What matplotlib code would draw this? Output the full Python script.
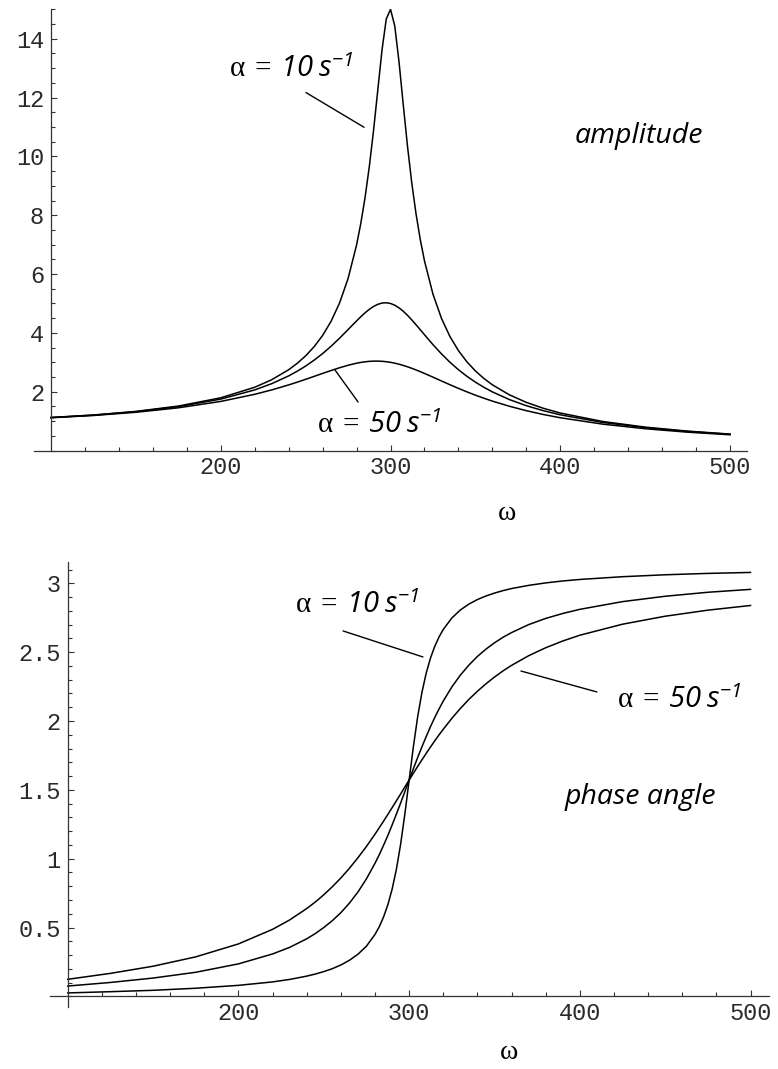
import matplotlib
matplotlib.use('Agg')
import matplotlib.pyplot as plt
from matplotlib.ticker import MultipleLocator, FixedLocator

# valores (omega em s^-1)
omega = [100, 125, 150, 175, 200, 220, 230, 240, 245, 250, 255, 260, 265, 270, 275,
         280, 282.5, 285, 287.5, 290, 292.5, 295, 297.5, 300, 302.5, 305, 307.5, 310,
         312.5, 315, 317.5, 320, 325, 330, 335, 340, 345, 350, 355, 360, 370, 380,
         390, 400, 425, 450, 475, 500]

# amplitude para alpha = 10, 30, 50 s^-1
amp10 = [1.125, 1.209, 1.332, 1.513, 1.794, 2.152, 2.408, 2.748, 2.963, 3.220, 3.531,
         3.914, 4.396, 5.019, 5.848, 6.987, 7.722, 8.601, 9.649, 10.878, 12.251,
         13.621, 14.671, 15.0, 14.435, 13.218, 11.759, 10.348, 9.106, 8.057, 7.181,
         6.450, 5.318, 4.496, 3.877, 3.398, 3.017, 2.707, 2.451, 2.236, 1.896, 1.639,
         1.438, 1.277, 0.989, 0.798, 0.662, 0.561]
amp30 = [1.122, 1.204, 1.322, 1.493, 1.750, 2.062, 2.274, 2.538, 2.696, 2.873, 3.073,
         3.297, 3.547, 3.821, 4.113, 4.408, 4.550, 4.683, 4.801, 4.899, 4.971, 5.015,
         5.025, 5.0, 4.942, 4.852, 4.736, 4.598, 4.444, 4.279, 4.109, 3.938, 3.602,
         3.288, 3.003, 2.749, 2.525, 2.326, 2.151, 1.995, 1.735, 1.526, 1.356, 1.216,
         0.956, 0.778, 0.649, 0.553]
amp50 = [1.116, 1.193, 1.302, 1.454, 1.671, 1.913, 2.062, 2.232, 2.325, 2.422, 2.522,
         2.623, 2.722, 2.816, 2.900, 2.970, 2.997, 3.018, 3.033, 3.041, 3.042, 3.035,
         3.021, 3.0, 2.972, 2.936, 2.895, 2.849, 2.797, 2.742, 2.683, 2.623, 2.496,
         2.367, 2.239, 2.115, 1.996, 1.884, 1.780, 1.682, 1.507, 1.356, 1.227, 1.116,
         0.899, 0.743, 0.626, 0.537]

# ângulo de fase para alpha = 10, 30, 50 s^-1
phase10 = [0.025, 0.034, 0.044, 0.059, 0.080, 0.105, 0.123, 0.147, 0.162, 0.180, 0.201,
           0.228, 0.262, 0.306, 0.365, 0.450, 0.506, 0.576, 0.664, 0.777, 0.921, 1.104,
           1.325, 1.571, 1.815, 2.031, 2.208, 2.348, 2.457, 2.542, 2.610, 2.665, 2.748,
           2.806, 2.849, 2.882, 2.908, 2.929, 2.947, 2.962, 2.985, 3.003, 3.017, 3.028,
           3.048, 3.062, 3.072, 3.079]
phase30 = [0.075, 0.101, 0.133, 0.175, 0.236, 0.308, 0.356, 0.418, 0.456, 0.500, 0.550,
           0.608, 0.677, 0.758, 0.854, 0.967, 1.029, 1.097, 1.168, 1.244, 1.323, 1.404,
           1.487, 1.571, 1.654, 1.735, 1.813, 1.887, 1.959, 2.025, 2.087, 2.145, 2.247,
           2.333, 2.406, 2.469, 2.522, 2.568, 2.608, 2.642, 2.700, 2.745, 2.781, 2.811,
           2.867, 2.906, 2.935, 2.956]
phase50 = [0.124, 0.167, 0.219, 0.287, 0.381, 0.487, 0.555, 0.638, 0.685, 0.738, 0.796,
           0.860, 0.930, 1.007, 1.089, 1.178, 1.225, 1.272, 1.321, 1.370, 1.420, 1.470,
           1.521, 1.571, 1.621, 1.670, 1.718, 1.765, 1.811, 1.856, 1.899, 1.940, 2.019,
           2.091, 2.157, 2.216, 2.270, 2.319, 2.364, 2.404, 2.474, 2.532, 2.581, 2.623,
           2.703, 2.761, 2.805, 2.839]

x_major = [200, 300, 400, 500]
amp_major = [2, 4, 6, 8, 10, 12, 14]
phase_major = [0.5, 1, 1.5, 2, 2.5, 3]

plt.rcParams['mathtext.fontset'] = 'custom'
plt.rcParams['mathtext.rm'] = 'Liberation Serif'
plt.rcParams['mathtext.it'] = 'Liberation Serif:italic'
plt.rcParams['mathtext.sf'] = 'Open Sans:italic'
plt.rcParams['mathtext.bf'] = 'Liberation Serif:bold'

mono = 'Liberation Mono'
eixo = '#333333'

fig = plt.figure(figsize=(7.78, 10.69), dpi=100)
ax1 = fig.add_axes([0.0437, 0.5785, 0.9165, 0.4128])
ax2 = fig.add_axes([0.0643, 0.0579, 0.9245, 0.4164])


def estilo(ax, major_y, minor_y, fmt):
    for s in ['top', 'right']:
        ax.spines[s].set_visible(False)
    ax.spines['left'].set_position(('data', 100))
    ax.spines['bottom'].set_position(('data', 0))
    for s in ['left', 'bottom']:
        ax.spines[s].set_color(eixo)
        ax.spines[s].set_linewidth(0.9)
    ax.xaxis.set_major_locator(FixedLocator(x_major))
    ax.xaxis.set_minor_locator(FixedLocator([v for v in range(120, 520, 20) if v % 100]))
    ax.yaxis.set_major_locator(FixedLocator(major_y))
    ax.yaxis.set_minor_locator(MultipleLocator(minor_y))
    ax.set_yticklabels([fmt(v) for v in major_y])
    ax.tick_params(which='both', direction='in', colors=eixo, width=0.8)
    ax.tick_params(which='major', length=4.5, labelsize=17)
    ax.tick_params(which='minor', length=2.6)
    ax.tick_params(axis='x', pad=4)
    ax.tick_params(axis='y', pad=5)
    for lab in ax.get_xticklabels() + ax.get_yticklabels():
        lab.set_family(mono)
        lab.set_color('#2a2a2a')


rotulo10 = r'$\mathrm{\alpha}\;\mathrm{=}\;\mathsf{10}\;\mathsf{s}^{\mathsf{-1}}$'
rotulo50 = r'$\mathrm{\alpha}\;\mathrm{=}\;\mathsf{50}\;\mathsf{s}^{\mathsf{-1}}$'
linha = dict(arrowstyle='-', color='black', lw=1.0, shrinkA=0, shrinkB=0)

# gráfico da amplitude
for a in [amp10, amp30, amp50]:
    ax1.plot(omega, a, color='black', lw=1.1)
ax1.set_xlim(90, 510)
ax1.set_ylim(0, 15)
estilo(ax1, amp_major, 0.5, lambda v: '%d' % v)

ax1.text(205, 12.7, rotulo10, fontsize=21, ha='left', va='baseline')
ax1.annotate('', xy=(284.4, 10.99), xytext=(250.2, 12.17), arrowprops=linha)
ax1.text(256.7, 0.6, rotulo50, fontsize=21, ha='left', va='baseline')
ax1.annotate('', xy=(267.3, 2.74), xytext=(280.9, 1.65), arrowprops=linha)
ax1.text(446.4, 10.46, 'amplitude', fontsize=20.5, family='Open Sans', style='italic',
         ha='center', va='baseline')
ax1.text(368.6, -2.09, r'$\mathrm{\omega}$', fontsize=20, ha='center', va='center',
         clip_on=False)

# gráfico do ângulo de fase
for p in [phase10, phase30, phase50]:
    ax2.plot(omega, p, color='black', lw=1.1)
ax2.set_xlim(89.6, 511.0)
ax2.set_ylim(-0.078, 3.155)
estilo(ax2, phase_major, 0.1, lambda v: '%g' % v)

ax2.text(233.2, 2.784, rotulo10, fontsize=21, ha='left', va='baseline')
ax2.annotate('', xy=(308.1, 2.465), xytext=(261.3, 2.654), arrowprops=linha)
ax2.text(421.8, 2.094, rotulo50, fontsize=21, ha='left', va='baseline')
ax2.annotate('', xy=(365.5, 2.363), xytext=(410.0, 2.211), arrowprops=linha)
ax2.text(435.3, 1.45, 'phase angle', fontsize=20.5, family='Open Sans', style='italic',
         ha='center', va='center')
ax2.text(358.0, -0.40, r'$\mathrm{\omega}$', fontsize=20, ha='center', va='center',
         clip_on=False)

fig.savefig('out.png', dpi=100)
